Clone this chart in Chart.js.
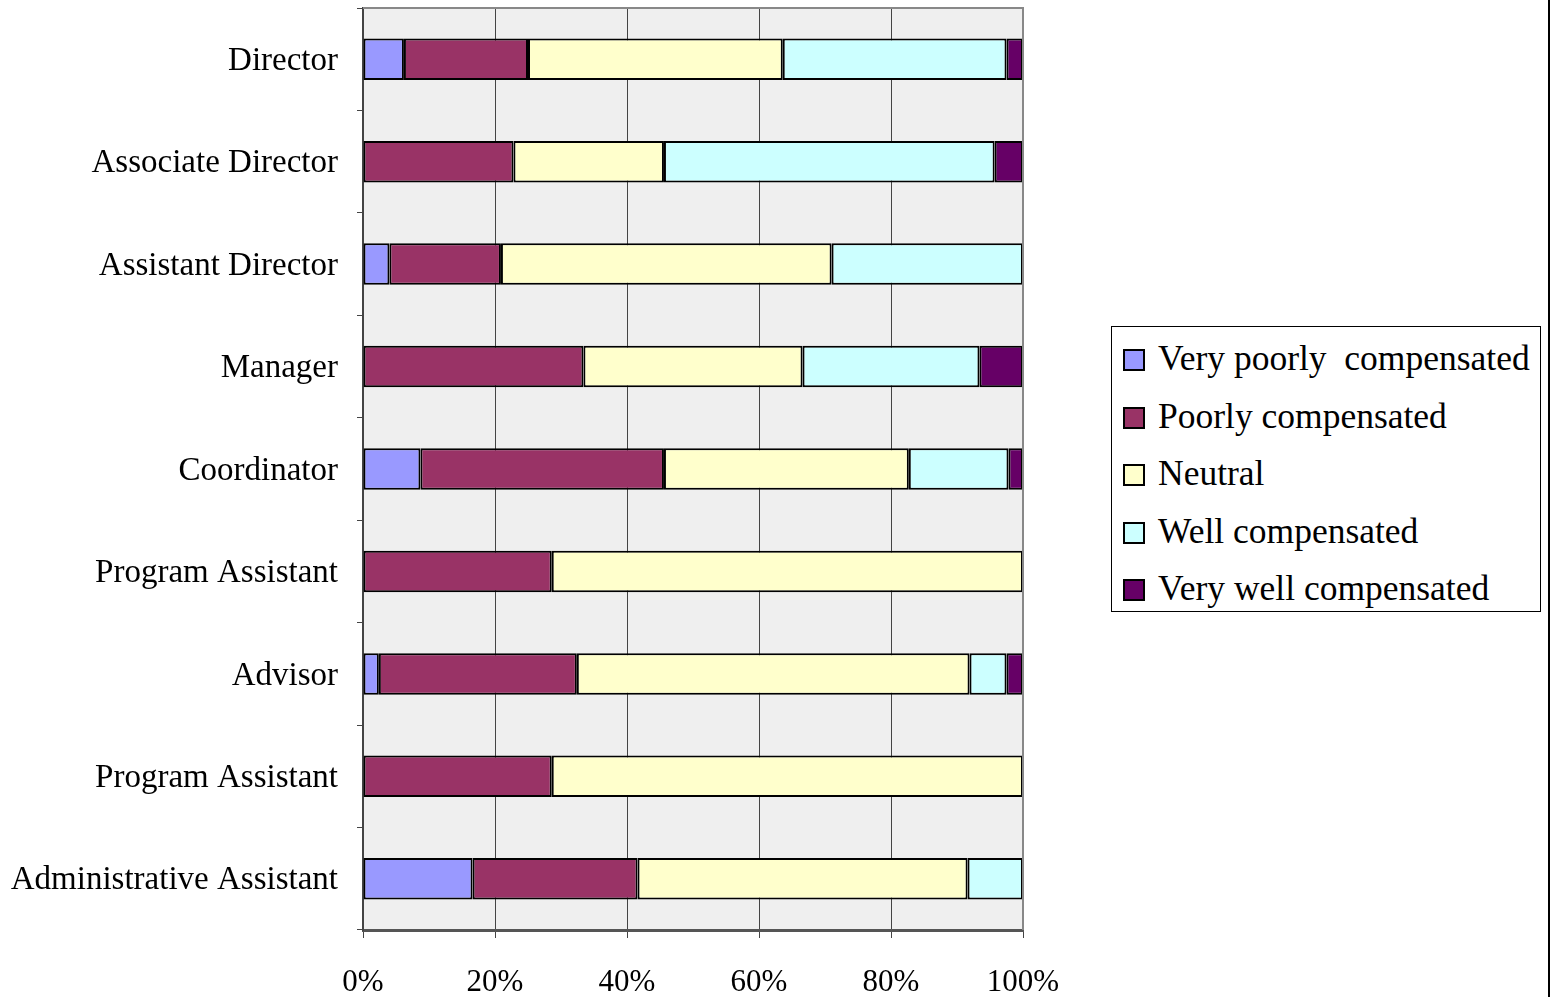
<!DOCTYPE html>
<html>
<head>
<meta charset="utf-8">
<script src="https://cdn.jsdelivr.net/npm/chart.js@4/dist/chart.umd.min.js"></script>
<style>
    html, body { margin: 0; padding: 0; background: #fff; }
    #wrap { position: relative; width: 1552px; height: 997px; overflow: hidden; }
    #frame { position: absolute; left: 1548px; top: 0; width: 2px; height: 997px; background: #000; }
    #legend {
        position: absolute; left: 1111px; top: 326px; width: 428px; height: 284px;
        border: 1px solid #000; background: #fff;
        font-family: "Liberation Serif", "Times New Roman", serif; font-size: 35.5px; color: #000;
    }
    #legend .row { position: absolute; left: 11px; height: 40px; line-height: 40px; white-space: pre; }
    #legend .sw {
        position: absolute; left: 0; top: 10px; width: 18px; height: 18px;
        border: 2px solid #000;
    }
    #legend .lbl { position: absolute; left: 35px; top: -1px; }
</style>
</head>
<body>
<div id="wrap">
    <canvas id="chart" width="1552" height="997"></canvas>
    <div id="legend"></div>
    <div id="frame"></div>
</div>
<script>
    var categories = ['Director', 'Associate Director', 'Assistant Director', 'Manager', 'Coordinator',
        'Program Assistant', 'Advisor', 'Program Assistant', 'Administrative Assistant'];
    var seriesNames = ['Very poorly  compensated', 'Poorly compensated', 'Neutral', 'Well compensated', 'Very well compensated'];
    var veryPoorly = [6.2, 0, 4.0, 0, 8.7, 0, 2.4, 0, 16.6];
    var poorly = [18.8, 22.8, 16.9, 33.4, 36.9, 28.6, 30.0, 28.6, 25.0];
    var neutral = [38.6, 22.8, 50.1, 33.2, 37.1, 71.4, 59.5, 71.4, 50.0];
    var well = [33.9, 50.1, 29.0, 26.8, 15.1, 0, 5.6, 0, 8.4];
    var veryWell = [2.5, 4.3, 0, 6.6, 2.2, 0, 2.5, 0, 0];
    var xTicks = ['0%', '20%', '40%', '60%', '80%', '100%'];
    var colors = ['#9999ff', '#993366', '#ffffcc', '#ccffff', '#660066'];

    var values = [veryPoorly, poorly, neutral, well, veryWell];
    var serif = '"Liberation Serif", "Times New Roman", serif';

    var plotFrame = {
        id: 'plotFrame',
        beforeDraw: function (chart) {
            var a = chart.chartArea, ctx = chart.ctx;
            ctx.save();
            ctx.fillStyle = '#efefef';
            ctx.fillRect(a.left, a.top, a.right - a.left, a.bottom - a.top);
            ctx.restore();
        },
        afterDatasetsDraw: function (chart) {
            var a = chart.chartArea, ctx = chart.ctx;
            ctx.save();
            ctx.strokeStyle = '#888';
            ctx.lineWidth = 2;
            ctx.beginPath();
            ctx.moveTo(a.left, a.top);
            ctx.lineTo(a.right, a.top);
            ctx.lineTo(a.right, a.bottom);
            ctx.stroke();
            ctx.restore();
        }
    };

    new Chart(document.getElementById('chart'), {
        type: 'bar',
        data: {
            labels: categories,
            datasets: values.map(function (v, i) {
                return {
                    label: seriesNames[i],
                    data: v,
                    backgroundColor: colors[i],
                    borderColor: '#000',
                    borderWidth: 2,
                    borderSkipped: false,
                    categoryPercentage: 1,
                    barPercentage: 0.405
                };
            })
        },
        options: {
            indexAxis: 'y',
            responsive: false,
            animation: false,
            layout: { padding: { left: 0, right: 529, top: 8, bottom: 0 } },
            plugins: { legend: { display: false }, tooltip: { enabled: false } },
            scales: {
                x: {
                    stacked: true,
                    min: 0,
                    max: 100,
                    afterFit: function (s) { s.height = 67; },
                    afterBuildTicks: function (s) {
                        s.ticks = xTicks.map(function (t, i) { return { value: i * 20 }; });
                    },
                    ticks: {
                        callback: function (v, i) { return xTicks[i]; },
                        font: { family: serif, size: 31 },
                        color: '#000',
                        padding: 26,
                        maxRotation: 0
                    },
                    grid: { color: '#444', lineWidth: 1, tickLength: 8 },
                    border: { color: '#555', width: 3 }
                },
                y: {
                    stacked: true,
                    afterFit: function (s) {
                        s.width = 363;
                        s.paddingTop = 0;
                        s.paddingBottom = 0;
                    },
                    ticks: {
                        font: { family: serif, size: 33 },
                        color: '#000',
                        padding: 19,
                        labelOffset: 2
                    },
                    grid: { offset: true, drawOnChartArea: false, color: '#444', tickLength: 6 },
                    border: { color: '#444', width: 2 }
                }
            }
        },
        plugins: [plotFrame]
    });

    var legend = document.getElementById('legend');
    seriesNames.forEach(function (name, i) {
        var row = document.createElement('div');
        row.className = 'row';
        row.style.top = (12 + i * 57.5) + 'px';
        row.innerHTML = '<span class="sw" style="background:' + colors[i] + '"></span><span class="lbl"></span>';
        row.querySelector('.lbl').textContent = name;
        legend.appendChild(row);
    });
</script>
</body>
</html>
